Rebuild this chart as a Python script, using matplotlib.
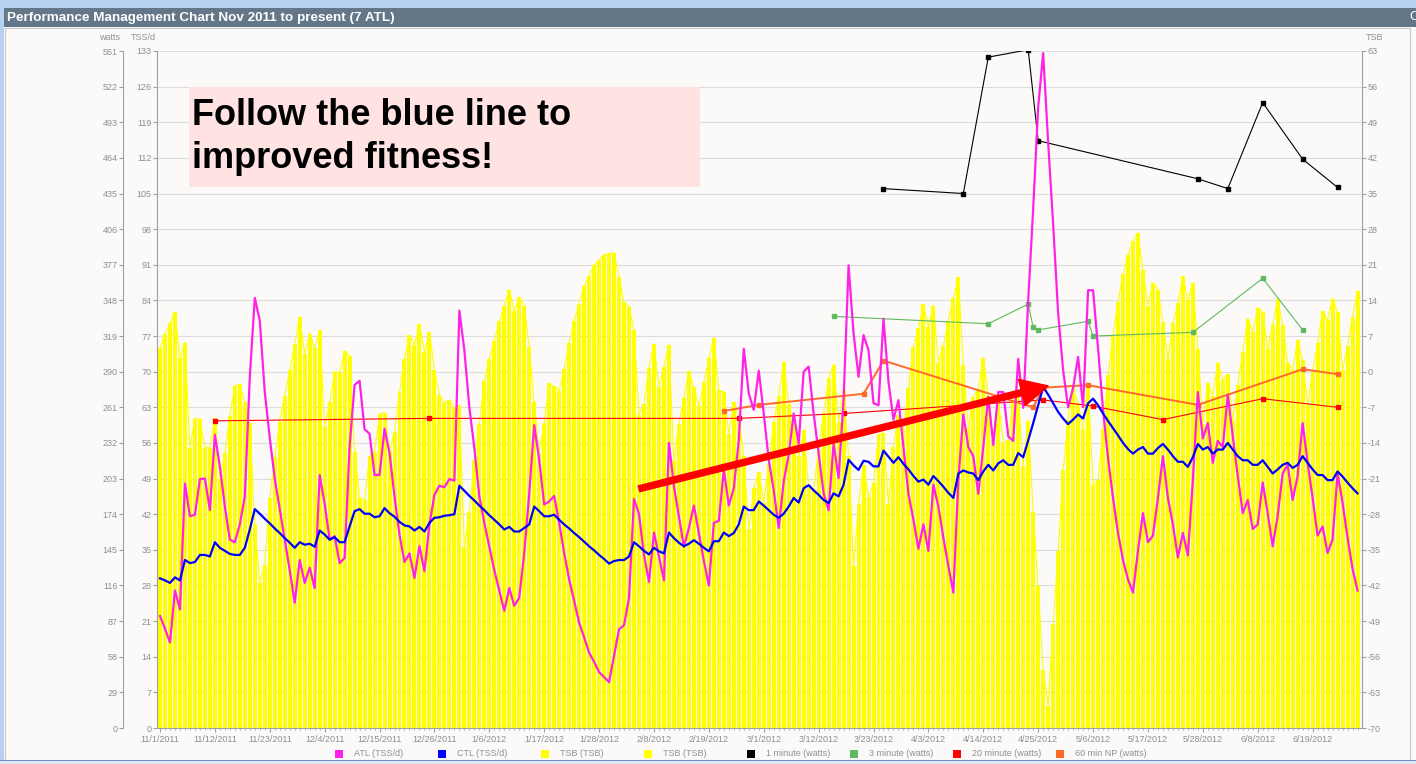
import matplotlib

matplotlib.use('Agg')
import matplotlib.pyplot as plt
from matplotlib.patches import Rectangle
import pandas as pd

plt.rcParams['font.family'] = ['Liberation Sans', 'DejaVu Sans']
plt.rcParams['axes.unicode_minus'] = False

W, H = 1416, 764
GRAY = '#8f8f8f'
BG = '#fbfaf8'

title = 'Performance Management Chart Nov 2011 to present (7 ATL)'
start_date = '2011-11-01'

# daily values, day 0 = 11/1/2011
atl = [22, 19.5, 16.8, 27, 23.3, 48, 41.6, 41.9, 48.9, 49,
       42.8, 57.6, 51.4, 43.5, 37, 36.5, 40, 45.5, 69, 84.5,
       80, 66, 57, 49, 43, 37, 31, 24.6, 33, 28.5,
       31.5, 27.5, 49.7, 44, 37, 37.7, 32.4, 33.4, 55.3, 67.4,
       68.2, 58.7, 57.8, 49.7, 49.7, 58.8, 54, 45.5, 38, 32.6,
       34.3, 29.5, 35.7, 30.8, 40, 45.8, 47.6, 47.3, 48.9, 48.6,
       82, 74.2, 63, 55, 45.5, 40.3, 35.7, 31, 27, 23,
       27.5, 24, 25.6, 34.4, 46, 59.5, 52.7, 43.9, 44.5, 45.6,
       40.3, 34.4, 29.2, 25, 20.7, 17.8, 14.8, 13, 11, 10,
       9, 14.2, 19.4, 20.2, 25.6, 45, 42, 34, 28.7, 38.4,
       33.7, 29, 56, 47.5, 41.6, 35.6, 39.3, 43.7, 38.3, 32.8,
       28, 40.3, 40.7, 50.7, 43.7, 47.1, 56.6, 74.5, 65.7, 62.5,
       70.2, 61.8, 52.7, 46.7, 39.3, 48.4, 53.7, 61.8, 55.8, 70,
       71, 61.8, 54, 46.1, 42.8, 55.9, 49.1, 64.4, 90.9, 77.5,
       69, 77.2, 74.2, 63.8, 63.4, 80.4, 68, 60.6, 64.4, 55.2,
       46, 40.9, 35.2, 40, 34.8, 47.8, 43.5, 37.4, 31.8, 26.6,
       48.7, 61.6, 55.2, 53.4, 46, 55.2, 65.1, 55.6, 66, 66,
       57.3, 56.4, 72.5, 62.9, 84, 102, 122, 132.6, 115, 99,
       81.5, 70.3, 63, 66.8, 72.9, 63, 86, 86, 74.6, 62.5,
       53, 45.2, 38.3, 33, 29.2, 26.6, 34.8, 42.2, 36.5, 37.8,
       45.2, 53.4, 45.2, 40, 33.5, 38.3, 33.9, 48.7, 66, 56.9,
       59.9, 52.1, 56.4, 55.2, 65.5, 57.3, 49.5, 42.2, 44.8, 39.1,
       40, 48.2, 42.2, 35.7, 41.7, 50, 51.7, 44.8, 49.5, 59.9,
       52.1, 45.2, 37.8, 39.6, 34.4, 37, 50, 44.3, 37.4, 31.3,
       27]

ctl = [29.4, 29, 28.5, 29.6, 29, 33, 32.4, 32.6, 34, 34,
       33.7, 36.5, 35.4, 34.8, 34.2, 34, 34, 35.4, 39, 43,
       42.1, 41.1, 40.2, 39.2, 38.3, 37.3, 36.4, 35.4, 36.5, 36,
       36.2, 35.6, 38.8, 38, 37, 37.5, 36.5, 36.5, 39.6, 42.6,
       43, 42.1, 42.1, 41.4, 41.6, 43.2, 42.2, 41.5, 40.5, 39.8,
       39.6, 38.8, 39.5, 38.6, 40.3, 41.3, 41.4, 41.7, 41.8, 42,
       47.6, 46.6, 45.6, 44.7, 43.7, 42.8, 41.8, 40.9, 40, 39,
       39.5, 38.6, 38.6, 39.3, 40, 43.5, 42.6, 41.6, 41.6, 41.9,
       40.9, 40, 39.2, 38.3, 37.5, 36.6, 35.7, 34.9, 34, 33.2,
       32.3, 32.8, 33, 33, 33.7, 36.5, 35.7, 34.8, 34.1, 35.4,
       34.7, 34.3, 38.4, 37.3, 36.4, 35.7, 36.2, 36.9, 36.2, 35.4,
       34.7, 36.7, 36.7, 38.4, 37.7, 38.3, 40, 43.5, 42.8, 42.8,
       44.5, 43.7, 42.8, 41.9, 41.3, 42.1, 43.5, 45.2, 44.3, 47.1,
       47.7, 46.7, 45.8, 44.8, 44.2, 46.1, 45.5, 47.8, 52.7, 51.6,
       50.7, 52.5, 52.3, 51.4, 51.4, 54.5, 53.3, 52.1, 53.2, 51.9,
       50.8, 49.5, 48.4, 48.8, 47.8, 49.5, 48.5, 47.4, 46.2, 45.2,
       50, 50.6, 50.2, 50, 48.7, 50.4, 51.7, 50.6, 52, 52.6,
       51.7, 51.7, 54, 53.2, 56.5, 59.9, 63.4, 67, 65.5, 63.8,
       62.1, 60.8, 59.7, 60.6, 61.6, 60.8, 63.8, 64.7, 63.4, 61.8,
       60.3, 58.9, 57.5, 56, 54.8, 53.9, 54.7, 55.2, 53.9, 53.9,
       55, 55.8, 54.7, 53.4, 52.3, 52.3, 51.3, 53.2, 55.8, 54.7,
       55.2, 53.9, 54.7, 54.7, 56, 54.7, 53.4, 52.6, 52.6, 51.7,
       51.7, 52.6, 51.3, 50, 50.8, 51.7, 52.1, 51.1, 51.7, 53.4,
       52.1, 50.8, 49.7, 49.7, 48.7, 48.7, 50.4, 49.4, 48.2, 47.1,
       46.1]

tsb = [4.7, 7.4, 9.5, 11.7, 2.6, 5.7, -15, -9.2, -9.3, -14.9,
       -15, -9.1, -21.1, -16, -8.7, -2.8, -2.5, -6, -10.1, -30,
       -41.5, -37.9, -24.9, -16.8, -9.8, -4.7, 0.3, 5.4, 10.8, 3.5,
       7.5, 4.7, 8.1, -10.9, -6, 0, -0.2, 4.1, 3.1, -15.7,
       -24.8, -25.2, -16.6, -15.7, -8.3, -8.1, -15.6, -11.8, -4, 2.5,
       7.2, 5.3, 9.3, 3.8, 7.8, 0.3, -4.5, -6.2, -5.6, -7.1,
       -6.6, -34.4, -27.6, -17.4, -10.3, -1.8, 2.5, 6.1, 9.9, 13,
       16, 12, 14.6, 13, 4.9, -6, -16, -10.1, -2.3, -2.9,
       -3.7, 0.6, 5.6, 10, 13.3, 16.8, 18.8, 20.9, 21.9, 23,
       23.2, 23.3, 18.6, 13.6, 12.8, 8.1, -8.5, -6.3, 0.8, 5.4,
       -3, 1, 5.3, -17.6, -10.2, -5.2, 0.1, -3.1, -6.8, -2.1,
       2.6, 6.7, -3.6, -4, -12.3, -6, -8.8, -16.6, -31, -22.9,
       -19.7, -25.7, -18.1, -9.9, -4.8, 2, -6.3, -10.2, -16.6, -11.5,
       -22.9, -23.3, -15.1, -8.2, -1.3, 1.4, -9.8, -3.6, -16.6, -38.2,
       -25.9, -18.3, -24.7, -21.9, -12.4, -12, -25.9, -14.7, -8.5, -11.2,
       -3.3, 4.8, 8.6, 13.2, 8.8, 13, 1.7, 5, 10, 14.4,
       18.6, 1.3, -11, -5, -3.4, 2.7, -4.8, -13.4, -5, -14,
       -13.4, -5.6, -4.7, -18.5, -9.7, -27.5, -42.1, -58.6, -65.6, -49.5,
       -35.2, -19.4, -9.5, -3.3, -6.2, -11.3, -2.2, -22.2, -21.3, -11.2,
       -0.7, 7.3, 13.7, 19.2, 23, 25.6, 27.3, 19.9, 13, 17.4,
       16.1, 9.8, 2.4, 9.5, 13.4, 18.8, 14, 17.4, 4.5, -10.2,
       -2.2, -4.7, 1.8, -1.7, -0.5, -9.5, -2.6, 3.9, 10.4, 7.8,
       12.6, 11.7, 4.4, 9.1, 14.3, 9.1, 1.7, 0.4, 6.3, 2.2,
       -6.5, 0, 5.6, 11.9, 10.1, 14.3, 11.7, 0.4, 5.1, 10.8,
       15.8]

# power bests (day index, watts)
min1_days = [145, 161, 166, 174, 176, 208, 214, 221, 229, 236]
min1_watts = [439, 435, 546, 552, 478, 447, 439, 509, 463, 440]
min3_days = [135, 166, 174, 175, 176, 186, 187, 207, 221, 229]
min3_watts = [335, 329, 345, 326, 324, 331, 319, 322, 366, 324]
min20_days = [11, 54, 116, 137, 177, 187, 201, 221, 236]
min20_watts = [250, 252, 252, 256, 267, 262, 251, 268, 261]
np60_days = [113, 120, 141, 145, 175, 177, 186, 208, 229, 236]
np60_watts = [258, 263, 272, 299, 261, 277, 279, 263, 292, 288]

days = list(range(len(atl)))
dates = pd.date_range(start_date, periods=len(days))
tick_days = list(range(0, len(days), 11))
tick_labels = ['%d/%d/%d' % (dates[i].month, dates[i].day, dates[i].year) for i in tick_days]

fig = plt.figure(figsize=(W / 100, H / 100), dpi=100, facecolor=BG)


def px(x, y):
    return x / W, 1 - y / H


# window chrome
fig.add_artist(Rectangle((0, 1 - 8 / H), 1, 8 / H, transform=fig.transFigure,
                         color='#b9d1f1', lw=0))
fig.add_artist(Rectangle((0, 0), 4 / W, 1, transform=fig.transFigure, color='#b9d1f1', lw=0))
fig.add_artist(Rectangle((4 / W, 1 - 27 / H), 1, 19 / H, transform=fig.transFigure,
                         color='#647789', lw=0))
fig.add_artist(Rectangle((5 / W, 1 - 760 / H), 1405 / W, 732 / H, transform=fig.transFigure,
                         fill=False, edgecolor='#c8c8c8', lw=0.8))
fig.add_artist(Rectangle((0, 0), 1, 3 / H, transform=fig.transFigure, color='#dfe8f4', lw=0))
fig.add_artist(Rectangle((0, 3 / H), 1, 1.5 / H, transform=fig.transFigure, color='#6f8fc0', lw=0))
fig.text(*px(7, 17.5), title, color='white', fontweight='bold', fontsize=9.7, va='center')
fig.text(*px(1409, 17.5), 'C', color='white', fontsize=9.7, va='center')

L, R, B, T = 157, 1362, 728, 51
ax = fig.add_axes([L / W, 1 - B / H, (R - L) / W, (B - T) / H])
ax_b = ax.twinx()
ax_w = ax.twinx()
ax_b.set_zorder(1)
ax_w.set_zorder(2)
ax.set_zorder(3)
for a in (ax, ax_b, ax_w):
    a.patch.set_visible(False)
    for s in a.spines.values():
        s.set_visible(False)
        s.set_color('#a0a0a0')

# TSB bars + line (right axis)
ax_b.bar(days, [t + 70 for t in tsb], bottom=-70, width=0.8, color='#ffff00', lw=0)
ax_b.plot(days, tsb, color='#ffff00', lw=0.8)
ax_b.set_ylim(-70, 63)
ax_b.set_yticks(range(-70, 64, 7))
ax_b.spines['right'].set_visible(True)
ax_b.yaxis.grid(True, color='#dcdcdc', lw=0.8)
ax_b.set_axisbelow(True)

# ATL / CTL (TSS/d)
ax.plot(days, atl, color='#ff22e6', lw=1.6)
ax.plot(days, ctl, color='#0000ff', lw=1.6)
ax.set_ylim(0, 133)
ax.set_yticks(range(0, 134, 7))
ax.spines['left'].set_visible(True)
ax.spines['bottom'].set_visible(True)
ax.set_xlim(-0.6, len(days) - 0.1)
ax.set_xticks(tick_days)
ax.set_xticklabels(tick_labels)
ax.set_xticks(days, minor=True)

# power (watts, outer left axis)
ax_w.plot(min1_days, min1_watts, color='black', lw=0.8, marker='s', ms=3.4)
ax_w.plot(min3_days, min3_watts, color='#5fba5f', lw=0.8, marker='s', ms=3.4)
ax_w.plot(min20_days, min20_watts, color='#ff0000', lw=0.8, marker='s', ms=3.4)
ax_w.plot(np60_days, np60_watts, color='#ff6a28', lw=1.4, marker='s', ms=3.4)
ax_w.set_ylim(0, 551)
ax_w.set_yticks(range(0, 552, 29))
ax_w.yaxis.tick_left()
ax_w.spines['left'].set_visible(True)
ax_w.spines['left'].set_position(('outward', 34 * 0.72))

for a in (ax, ax_b, ax_w):
    a.tick_params(axis='y', which='both', direction='out', length=3, width=0.8,
                  color='#a0a0a0', labelcolor=GRAY, labelsize=6.5, pad=1)
ax.tick_params(axis='x', which='major', direction='out', length=3, width=0.8,
               color='#a0a0a0', labelcolor=GRAY, labelsize=6.5, pad=2)
ax.tick_params(axis='x', which='minor', direction='out', length=1.5, width=0.6, color='#a0a0a0')

# note and arrow
ax.add_patch(Rectangle((0.0266, 0.7991), 0.424, 0.1477, transform=ax.transAxes,
                       facecolor='#ffe2e2', edgecolor='none', zorder=5))
ax.text(0.029, 0.8907, 'Follow the blue line to', transform=ax.transAxes, fontsize=26,
        fontweight='bold', va='baseline', zorder=6)
ax.text(0.029, 0.8272, 'improved fitness!', transform=ax.transAxes, fontsize=26,
        fontweight='bold', va='baseline', zorder=6)
ax.annotate('', xy=(178, 67.2), xytext=(96, 47), zorder=7,
            arrowprops=dict(arrowstyle='simple,head_length=1.3,head_width=1.3,tail_width=0.29',
                            mutation_scale=15, color='#ff0000', shrinkA=0, shrinkB=0))

# axis titles
fig.text(*px(110, 37), 'watts', ha='center', va='center', color=GRAY, fontsize=6.5)
fig.text(*px(143, 37), 'TSS/d', ha='center', va='center', color=GRAY, fontsize=6.5)
fig.text(*px(1374, 37), 'TSB', ha='center', va='center', color=GRAY, fontsize=6.5)

# legend
legend = [('ATL (TSS/d)', '#ff22e6'), ('CTL (TSS/d)', '#0000ff'), ('TSB (TSB)', '#ffff00'),
          ('TSB (TSB)', '#ffff00'), ('1 minute (watts)', 'black'), ('3 minute (watts)', '#5fba5f'),
          ('20 minute (watts)', '#ff0000'), ('60 min NP (watts)', '#ff6a28')]
for i, (lab, col) in enumerate(legend):
    x0 = 335 + 103 * i
    fig.add_artist(Rectangle(px(x0, 758), 8 / W, 8 / H, transform=fig.transFigure, color=col, lw=0))
    fig.text(*px(x0 + 19, 754), lab, va='center', color=GRAY, fontsize=6.5)

plt.savefig('out.png', dpi=100, facecolor=BG)
